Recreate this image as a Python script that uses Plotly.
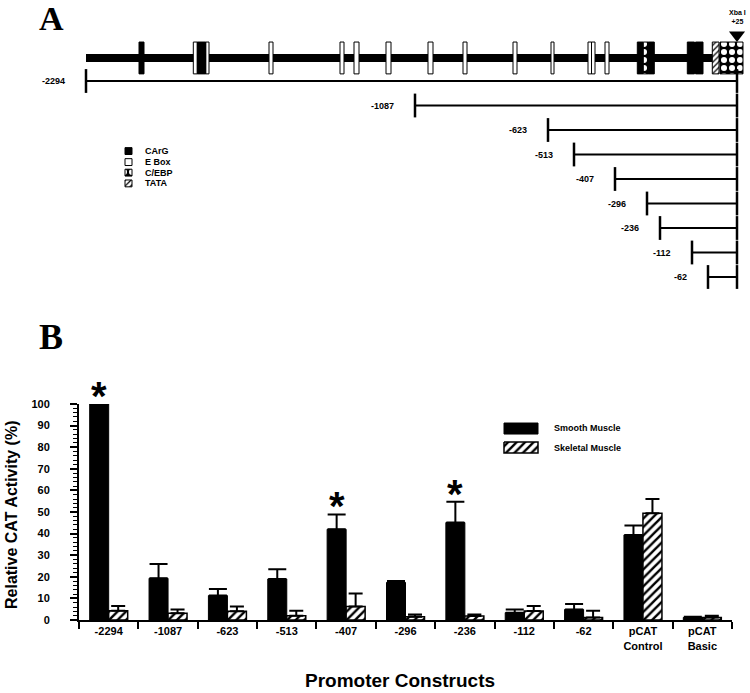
import plotly.graph_objects as go

# ================= Panel B data =================
constructs = ["-2294", "-1087", "-623", "-513", "-407", "-296", "-236", "-112", "-62",
              "pCAT<br>Control", "pCAT<br>Basic"]
smooth = [100, 19.3, 11.3, 19.0, 42.0, 17.4, 45.1, 3.4, 4.9, 39.4, 1.2]
smooth_err = [0, 6.6, 3.1, 4.5, 6.9, 0.7, 9.7, 1.5, 2.5, 4.4, 0.3]
skeletal = [4.3, 3.1, 4.0, 2.0, 6.2, 1.5, 1.9, 4.2, 1.2, 49.4, 1.2]
skeletal_err = [2.2, 1.8, 2.2, 2.3, 6.1, 1.1, 0.6, 2.3, 3.1, 6.6, 0.8]
significant = ["-2294", "-407", "-236"]
y_ticks = list(range(0, 101, 10))

# ================= Panel A data (schematic units, 0 = Xba I +25 site) =================
construct_labels = ["-2294", "-1087", "-623", "-513", "-407", "-296", "-236", "-112", "-62"]
construct_start = [-651, -322, -189, -163, -122, -90, -77, -45, -29]
carg_sites = [(-598, -593), (-539.7, -531.3), (-99.7, -93.7), (-88.7, -82.7),
              (-49.7, -42.5), (-41.5, -34)]
ebox_sites = [(-543.7, -539.7), (-531.3, -528), (-468, -464), (-397, -393), (-383, -378),
              (-351, -346), (-309, -304), (-274, -270), (-224, -220), (-186, -183),
              (-149, -145.5), (-145.5, -142), (-132, -128)]
cebp_sites = [(-93.7, -88.7), (-17, 6)]
tata_sites = [(-24.7, -18)]
gene_extent = (-651, 6)
element_types = ["CArG", "E Box", "C/EBP", "TATA"]

FONT = "Liberation Sans, Arial, sans-serif"
SERIF = "Liberation Serif, Times New Roman, serif"

W, H = 750, 693


def px(x):
    return x / W


def py(y):
    return 1 - y / H


fig = go.Figure()

STYLE = {
    "CArG": dict(fillcolor="black"),
    "E Box": dict(fillcolor="white"),
    "C/EBP": dict(fillpattern=dict(shape=".", bgcolor="black", fgcolor="white", size=8,
                                   solidity=0.45, fillmode="replace")),
    "TATA": dict(fillpattern=dict(shape="/", bgcolor="white", fgcolor="black", size=4,
                                  solidity=0.3, fillmode="replace")),
}


def rect_trace(pairs, r0, r1, kind):
    xs, ys = [], []
    for a, b in pairs:
        xs += [a, b, b, a, a, None]
        ys += [r0, r0, r1, r1, r0, None]
    return go.Scatter(x=xs, y=ys, mode="lines", fill="toself",
                      line=dict(color="black", width=1), hoverinfo="skip",
                      showlegend=False, xaxis="x", yaxis="y", **STYLE[kind])


# ---- Panel A: gene line ----
R_GENE = -0.94
R_TOP, R_BOT = -1.59, -0.29
fig.add_trace(go.Scatter(x=list(gene_extent), y=[R_GENE, R_GENE], mode="lines",
                         line=dict(color="black", width=8), hoverinfo="skip",
                         showlegend=False, xaxis="x", yaxis="y"))
fig.add_trace(rect_trace(ebox_sites, R_TOP, R_BOT, "E Box"))
fig.add_trace(rect_trace(carg_sites, R_TOP, R_BOT, "CArG"))
fig.add_trace(rect_trace(cebp_sites, R_TOP, R_BOT, "C/EBP"))
fig.add_trace(rect_trace(tata_sites, R_TOP, R_BOT, "TATA"))
fig.add_trace(go.Scatter(x=[0], y=[-1.88], mode="markers",
                         marker=dict(symbol="triangle-down", size=14, color="black"),
                         hoverinfo="skip", showlegend=False, xaxis="x", yaxis="y"))

# ---- Panel A: deletion constructs ----
lx, ly = [], []
for i, s in enumerate(construct_start):
    lx += [s, 0, None]
    ly += [i, i, None]
fig.add_trace(go.Scatter(x=lx, y=ly, mode="lines", line=dict(color="black", width=2),
                         hoverinfo="skip", showlegend=False, xaxis="x", yaxis="y"))
fig.add_trace(go.Scatter(x=construct_start + [0] * len(construct_start),
                         y=list(range(len(construct_start))) * 2, mode="markers",
                         marker=dict(symbol="line-ns", size=17,
                                     line=dict(width=2.5, color="black")),
                         hoverinfo="skip", showlegend=False, xaxis="x", yaxis="y"))

annotations = []
for i, (lab, s) in enumerate(zip(construct_labels, construct_start)):
    annotations.append(dict(x=s, y=i, xref="x", yref="y", text=lab, showarrow=False,
                            xanchor="right", yanchor="middle", xshift=-19,
                            font=dict(family=FONT, size=9, color="black", weight="bold")))
annotations.append(dict(x=0, y=-2.62, xref="x", yref="y", text="Xba I<br>+25",
                        showarrow=False, xanchor="center", yanchor="middle",
                        font=dict(family=FONT, size=7, color="black", weight="bold")))

# ---- Panel A legend ----
leg_rows = [2.86, 3.31, 3.74, 4.18]
for kind, r in zip(element_types, leg_rows):
    fig.add_trace(rect_trace([(-612, -605)], r - 0.14, r + 0.14, kind))
    annotations.append(dict(x=-594, y=r, xref="x", yref="y", text=kind, showarrow=False,
                            xanchor="left", yanchor="middle",
                            font=dict(family=FONT, size=9, color="black", weight="bold")))

# ---- Panel B bars ----
fig.add_trace(go.Bar(x=constructs, y=smooth, name="Smooth Muscle",
                     marker=dict(color="black", line=dict(color="black", width=1)),
                     error_y=dict(type="data", array=smooth_err,
                                  arrayminus=[0] * len(smooth), symmetric=False,
                                  color="black", thickness=2, width=9),
                     xaxis="x2", yaxis="y2", showlegend=False, hoverinfo="skip"))
fig.add_trace(go.Bar(x=constructs, y=skeletal, name="Skeletal Muscle",
                     marker=dict(color="white", line=dict(color="black", width=1.5),
                                 pattern=dict(shape="/", fgcolor="black", bgcolor="white",
                                              size=6, solidity=0.4)),
                     error_y=dict(type="data", array=skeletal_err,
                                  arrayminus=[0] * len(skeletal), symmetric=False,
                                  color="black", thickness=2, width=7),
                     xaxis="x2", yaxis="y2", showlegend=False, hoverinfo="skip"))

for c in significant:
    i = constructs.index(c)
    top = smooth[i] + smooth_err[i]
    annotations.append(dict(x=i, y=top, xref="x2", yref="y2", text="*", showarrow=False,
                            xanchor="center", yanchor="bottom", xshift=-9.5, yshift=-16,
                            font=dict(family=FONT, size=40, color="black", weight="bold")))

# ---- Panel B legend ----
fig.add_trace(go.Scatter(x=[-233, -199, -199, -233, -233], y=[13.96, 13.96, 14.41, 14.41, 13.96],
                         mode="lines", fill="toself", fillcolor="black",
                         line=dict(color="black", width=1), hoverinfo="skip",
                         showlegend=False, xaxis="x", yaxis="y"))
fig.add_trace(go.Scatter(x=[-233, -199, -199, -233, -233], y=[14.73, 14.73, 15.18, 15.18, 14.73],
                         mode="lines", fill="toself",
                         fillpattern=dict(shape="/", bgcolor="white", fgcolor="black", size=6,
                                          solidity=0.4, fillmode="replace"),
                         line=dict(color="black", width=1.5), hoverinfo="skip",
                         showlegend=False, xaxis="x", yaxis="y"))
for txt, r in [("Smooth Muscle", 14.18), ("Skeletal Muscle", 14.96)]:
    annotations.append(dict(x=-185, y=r, xref="x", yref="y", text=txt, showarrow=False,
                            xanchor="left", yanchor="middle",
                            font=dict(family=FONT, size=9, color="black", weight="bold")))

annotations += [
    dict(x=px(51), y=1, xref="paper", yref="paper", text="A", showarrow=False,
         xanchor="center", yanchor="top", yshift=2,
         font=dict(family=SERIF, size=34, color="black", weight="bold")),
    dict(x=px(51), y=py(337), xref="paper", yref="paper", text="B", showarrow=False,
         xanchor="center", yanchor="middle",
         font=dict(family=SERIF, size=36, color="black", weight="bold")),
    dict(x=px(11), y=py(515), xref="paper", yref="paper",
         text="Relative CAT Activity (%)", showarrow=False, textangle=-90,
         xanchor="center", yanchor="middle",
         font=dict(family=FONT, size=16, color="black", weight="bold")),
    dict(x=px(400), y=py(680), xref="paper", yref="paper",
         text="Promoter Constructs", showarrow=False, xanchor="center", yanchor="middle",
         font=dict(family=FONT, size=19, color="black", weight="bold")),
]

# boundaries between construct groups (for the short upward tick stubs)
boundaries = [k + 0.5 for k in range(-1, len(constructs))]

fig.update_layout(
    width=W, height=H,
    margin=dict(l=0, r=0, t=0, b=0),
    paper_bgcolor="white", plot_bgcolor="rgba(0,0,0,0)",
    template="none",
    showlegend=False,
    barmode="group", bargap=0.36, bargroupgap=0,
    font=dict(family=FONT, color="black"),
    xaxis=dict(domain=[0, 1], range=[-737, 750 - 737], visible=False, fixedrange=True),
    yaxis=dict(domain=[0, 1], range=[(693 - 81) / 24.5, -81 / 24.5], visible=False,
               fixedrange=True),
    xaxis2=dict(domain=[px(79), px(732)], anchor="y2", type="category",
                range=[-0.5, len(constructs) - 0.5], tickson="boundaries",
                ticks="outside", ticklen=7, tickwidth=2, tickcolor="black",
                showline=True, linewidth=2, linecolor="black", showgrid=False,
                zeroline=False, fixedrange=True,
                tickfont=dict(family=FONT, size=11, color="black", weight="bold")),
    xaxis3=dict(domain=[px(79), px(732)], anchor="y2", overlaying="x2", type="linear",
                range=[-0.5, len(constructs) - 0.5], tickvals=boundaries,
                ticks="inside", ticklen=3, tickwidth=2, tickcolor="black",
                showticklabels=False, showline=False, showgrid=False, zeroline=False,
                fixedrange=True),
    yaxis2=dict(domain=[py(620), py(404)], anchor="x2", range=[0, 100],
                tickvals=y_ticks, ticks="outside", ticklen=7, tickwidth=2,
                tickcolor="black", showline=True, linewidth=2, linecolor="black",
                showgrid=False, zeroline=False, ticklabelstandoff=18, fixedrange=True,
                minor=dict(dtick=2, ticks="outside", ticklen=4, tickwidth=1,
                           tickcolor="black", showgrid=False),
                tickfont=dict(family=FONT, size=11, color="black", weight="bold")),
    annotations=annotations,
)

fig.write_html("out.html", config={"displayModeBar": False},
               post_script="document.body.style.margin='0px';")
